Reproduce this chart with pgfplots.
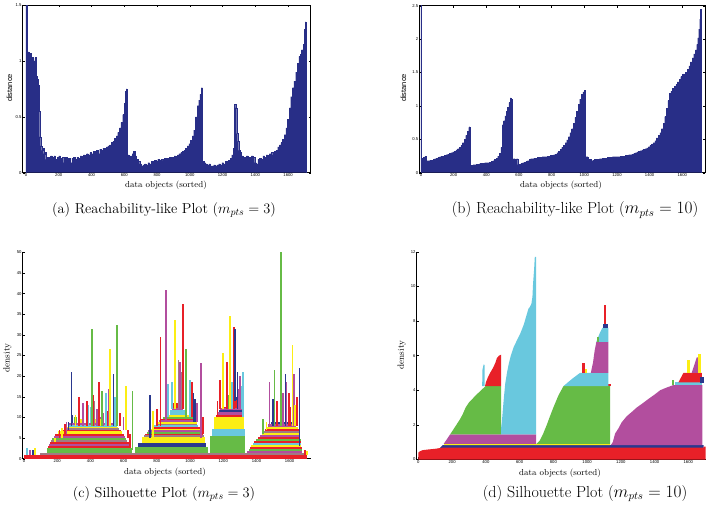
\documentclass[border=0pt]{standalone}
\usepackage{pgfplots}
\pgfplotsset{compat=1.18}
\usepackage{fontspec}
\newfontfamily\sff{Liberation Sans}
\definecolor{navy}{RGB}{40,46,135}
\definecolor{sred}{RGB}{232,32,40}
\definecolor{sgreen}{RGB}{102,187,70}
\definecolor{sblue}{RGB}{42,56,142}
\definecolor{syellow}{RGB}{252,238,20}
\definecolor{scyan}{RGB}{105,200,222}
\definecolor{spurple}{RGB}{178,78,158}
\definecolor{sgray}{RGB}{160,122,132}
\newcommand{\rb}[5]{\addplot[draw=none,fill=#1] coordinates {(#2,#4) (#3,#4) (#3,#5) (#2,#5)} -- cycle;}
\pgfplotsset{
  common/.style={scale only axis, ymin=0, xtick={0,200,...,1600},
    tick align=inside, major tick length=2.2pt,
    ticklabel style={font=\sff\fontsize{4.2}{4.6}\selectfont},
    xticklabel style={inner sep=0.6pt},
    yticklabel style={inner sep=1pt},
    /pgf/number format/assume math mode=true,
    /pgf/number format/1000 sep={},
    axis line style={line width=0.6pt}, tick style={line width=0.4pt, black}},
  reach/.style={common, tick pos=both},
  silh/.style={common, axis lines*=left, axis line style={-, line width=0.6pt}}
}
\begin{document}
\begin{tikzpicture}
\useasboundingbox (0,0) rectangle (715pt,-504pt);
% ---------------- (a)
\begin{axis}[reach, at={(22.7pt,-172.7pt)}, anchor=south west, width=288pt, height=167.7pt,
  xmin=-20, xmax=1738, ymax=1.5, ytick={0,0.5,1,1.5}]
\addplot[const plot, fill=navy, draw=navy, line width=0.2pt] coordinates {
(0,1.6) (6,1.05) (12,1.08) (18,0.88) (24,1.07) (30,0.70) (36,1.03) (42,0.85) (48,1.0) (54,1.03)
(60,0.86) (66,0.84) (72,0.78) (78,0.55) (84,0.32) (90,0.24) (96,0.2) (102,0.22) (108,0.17) (114,0.18)
(120,0.12) (126,0.14) (140,0.13) (150,0.15) (160,0.14) (170,0.15) (180,0.12) (190,0.14) (200,0.15)
(210,0.13) (220,0.14) (230,0.09) (240,0.14) (250,0.12) (260,0.13) (270,0.09) (280,0.13) (290,0.14)
(300,0.12) (310,0.14) (320,0.13) (330,0.15) (340,0.14) (350,0.16) (360,0.15) (370,0.17) (380,0.16)
(390,0.18) (400,0.17) (410,0.19) (420,0.18) (430,0.2) (440,0.17) (450,0.21) (460,0.2) (470,0.22)
(480,0.21) (490,0.23) (500,0.24) (510,0.25) (520,0.27) (530,0.28) (540,0.31) (550,0.33) (560,0.36)
(570,0.4) (580,0.45) (590,0.52) (600,0.62) (606,0.73) (612,0.75) (618,0.16) (628,0.14) (638,0.15)
(648,0.17) (656,0.19) (664,0.15) (674,0.12) (684,0.1) (694,0.08) (704,0.06) (714,0.07) (724,0.08)
(734,0.07) (744,0.09) (754,0.08) (764,0.1) (774,0.09) (784,0.11) (794,0.1) (804,0.12) (814,0.11)
(824,0.12) (834,0.11) (844,0.13) (854,0.12) (864,0.13) (874,0.14) (884,0.12) (894,0.14) (904,0.15)
(914,0.14) (924,0.16) (934,0.17) (944,0.18) (954,0.19) (964,0.2) (974,0.22) (984,0.24) (994,0.26)
(1004,0.29) (1014,0.33) (1024,0.38) (1034,0.5) (1044,0.6) (1054,0.65) (1062,0.7) (1070,0.76)
(1076,0.1) (1086,0.09) (1096,0.08) (1106,0.07) (1116,0.08) (1126,0.06) (1136,0.06) (1146,0.07)
(1156,0.06) (1166,0.07) (1176,0.08) (1186,0.07) (1196,0.09) (1206,0.08) (1216,0.1) (1226,0.09)
(1236,0.11) (1246,0.13) (1256,0.16) (1266,0.22) (1272,0.61) (1280,0.58) (1286,0.35) (1292,0.28)
(1298,0.2) (1306,0.18) (1316,0.15) (1326,0.14) (1336,0.13) (1346,0.15) (1356,0.14) (1366,0.13)
(1376,0.15) (1386,0.14) (1396,0.09) (1406,0.08) (1416,0.12) (1426,0.13) (1436,0.12) (1446,0.15)
(1456,0.14) (1466,0.16) (1476,0.15) (1486,0.17) (1496,0.18) (1506,0.16) (1516,0.19) (1526,0.2)
(1536,0.23) (1546,0.25) (1556,0.27) (1566,0.3) (1576,0.34) (1586,0.4) (1596,0.48) (1606,0.58)
(1616,0.68) (1626,0.76) (1636,0.82) (1646,0.9) (1656,0.98) (1666,1.04) (1672,0.92) (1676,1.06)
(1682,1.1) (1688,1.08) (1694,1.15) (1700,1.28) (1704,1.35) (1708,1.35)} \closedcycle;
\end{axis}
% ---------------- (b)
\begin{axis}[reach, at={(419.3pt,-172.7pt)}, anchor=south west, width=285.7pt, height=167pt,
  xmin=-10, xmax=1739, ymax=2.5, ytick={0,0.5,1,1.5,2,2.5}]
\addplot[const plot, fill=navy, draw=navy, line width=0.2pt] coordinates {
(0,2.6) (4,0.2) (10,0.22) (16,0.23) (22,0.24) (28,0.25) (34,0.18) (44,0.18) (54,0.19) (64,0.19)
(74,0.2) (84,0.21) (94,0.22) (104,0.23) (114,0.24) (124,0.25) (134,0.25) (144,0.26) (154,0.27)
(164,0.28) (174,0.29) (184,0.3) (194,0.31) (204,0.32) (214,0.34) (224,0.36) (234,0.38) (244,0.41)
(254,0.45) (264,0.5) (274,0.56) (284,0.62) (292,0.68) (296,0.69) (300,0.1) (310,0.11) (320,0.12)
(330,0.12) (340,0.13) (350,0.13) (360,0.14) (370,0.14) (380,0.14) (390,0.15) (400,0.15) (410,0.15)
(420,0.16) (430,0.17) (440,0.18) (450,0.2) (460,0.22) (470,0.25) (480,0.29) (490,0.38) (498,0.72)
(506,0.78) (514,0.85) (522,0.92) (530,0.98) (538,1.05) (546,1.12) (552,1.1) (556,0.2) (566,0.21)
(576,0.2) (586,0.21) (592,0.12) (602,0.13) (612,0.14) (622,0.15) (632,0.16) (642,0.17) (652,0.18)
(662,0.2) (672,0.21) (682,0.21) (692,0.22) (702,0.22) (712,0.23) (722,0.23) (732,0.23) (742,0.24)
(752,0.24) (762,0.24) (772,0.25) (782,0.25) (792,0.26) (802,0.26) (812,0.27) (822,0.28) (832,0.3)
(842,0.32) (852,0.35) (862,0.38) (872,0.41) (882,0.45) (892,0.49) (902,0.54) (912,0.6) (922,0.66)
(932,0.74) (942,0.83) (952,0.92) (962,1.02) (972,1.1) (982,1.17) (992,1.21) (1000,1.23) (1004,1.21)
(1008,0.24) (1016,0.24) (1022,0.18) (1032,0.2) (1042,0.18) (1052,0.19) (1062,0.2) (1072,0.2)
(1082,0.19) (1092,0.21) (1102,0.21) (1112,0.22) (1122,0.22) (1132,0.22) (1142,0.23) (1152,0.23)
(1162,0.23) (1172,0.24) (1182,0.24) (1192,0.24) (1202,0.24) (1212,0.24) (1222,0.25) (1232,0.25)
(1242,0.25) (1252,0.26) (1262,0.26) (1272,0.27) (1282,0.27) (1292,0.28) (1302,0.29) (1312,0.3)
(1322,0.31) (1332,0.32) (1342,0.33) (1352,0.34) (1362,0.35) (1372,0.36) (1382,0.37) (1392,0.39)
(1402,0.41) (1412,0.43) (1422,0.45) (1432,0.48) (1442,0.52) (1452,0.56) (1462,0.6) (1472,0.66)
(1482,0.74) (1492,0.84) (1502,0.96) (1512,1.08) (1520,1.19) (1530,1.22) (1540,1.26) (1550,1.29)
(1560,1.32) (1570,1.36) (1580,1.4) (1590,1.44) (1600,1.47) (1608,1.48) (1612,1.35) (1620,1.5)
(1630,1.55) (1640,1.6) (1650,1.66) (1660,1.72) (1670,1.78) (1680,1.84) (1688,1.92) (1694,2.02)
(1700,2.15) (1706,2.3) (1710,2.45) (1716,2.45)} \closedcycle;
\end{axis}
% ---------------- (c)
\begin{axis}[silh, at={(22.7pt,-458.7pt)}, anchor=south west, width=288pt, height=206.4pt,
  xmin=-8, xmax=1727, ymax=50, ytick={0,5,...,50}]
\rb{sred}{0}{1705}{0}{1.0}
\rb{sgray}{95}{1690}{1.0}{1.3}
% hill 1
\rb{sgreen}{140}{648}{1.3}{2.6}
\rb{sred}{145}{643}{2.6}{3.1}
\rb{spurple}{150}{638}{3.1}{3.6}
\rb{sred}{155}{630}{3.6}{4.1}
\rb{sgray}{162}{622}{4.1}{4.6}
\rb{sgreen}{170}{615}{4.6}{5.1}
\rb{spurple}{178}{608}{5.1}{5.6}
\rb{sred}{188}{600}{5.6}{6.1}
\rb{syellow}{205}{592}{6.1}{6.6}
\rb{sred}{225}{582}{6.6}{7.0}
\rb{sgray}{240}{575}{7.0}{7.4}
\rb{syellow}{255}{566}{7.4}{7.8}
\rb{scyan}{265}{560}{7.8}{8.2}
\rb{spurple}{272}{552}{8.2}{8.6}
\rb{sblue}{280}{296}{8.6}{10.5}
\rb{sgreen}{300}{320}{8.6}{10}
\rb{syellow}{330}{350}{8.6}{9.5}
\rb{scyan}{395}{430}{8.6}{12.5}
\rb{syellow}{430}{460}{8.6}{9.5}
\rb{spurple}{460}{480}{8.6}{10}
\rb{sred}{500}{520}{8.6}{11}
% hill 2
\rb{sgreen}{669}{1110}{1.3}{2.9}
\rb{sblue}{689}{1096}{2.9}{3.9}
\rb{syellow}{709}{1090}{3.9}{5.3}
\rb{sgray}{720}{1085}{5.3}{5.7}
\rb{sred}{728}{1080}{5.7}{6.1}
\rb{sgreen}{738}{1075}{6.1}{6.5}
\rb{spurple}{748}{1070}{6.5}{6.9}
\rb{syellow}{758}{1064}{6.9}{7.3}
\rb{sred}{770}{1058}{7.3}{7.7}
\rb{scyan}{782}{1050}{7.7}{8.1}
\rb{sgray}{795}{1045}{8.1}{8.5}
\rb{syellow}{805}{1040}{8.5}{8.9}
\rb{spurple}{815}{1035}{8.9}{9.3}
\rb{sred}{825}{1030}{9.3}{9.7}
\rb{sgreen}{835}{1022}{9.7}{10.2}
\rb{syellow}{855}{1000}{10.2}{10.6}
\rb{scyan}{880}{975}{10.6}{11.8}
\rb{spurple}{890}{960}{11.8}{12.2}
\rb{sred}{900}{940}{12.2}{13.4}
% hill 3
\rb{sgreen}{1121}{1332}{1.3}{5.5}
\rb{scyan}{1133}{1329}{5.5}{7.1}
\rb{syellow}{1143}{1326}{7.1}{10.2}
\rb{sred}{1158}{1324}{10.2}{10.7}
\rb{spurple}{1165}{1322}{10.7}{11.2}
\rb{sblue}{1172}{1320}{11.2}{11.7}
\rb{spurple}{1180}{1318}{11.7}{12.2}
\rb{sred}{1190}{1310}{12.2}{12.6}
\rb{sred}{1221}{1291}{12.6}{14.2}
\rb{sblue}{1240}{1285}{14.2}{15}
% hill 4
\rb{spurple}{1345}{1675}{1.3}{1.8}
\rb{sgreen}{1355}{1673}{1.8}{2.3}
\rb{sred}{1362}{1672}{2.3}{2.8}
\rb{syellow}{1370}{1670}{2.8}{3.3}
\rb{scyan}{1378}{1668}{3.3}{3.8}
\rb{sred}{1388}{1667}{3.8}{4.3}
\rb{sgreen}{1398}{1666}{4.3}{4.8}
\rb{sred}{1408}{1665}{4.8}{5.3}
\rb{spurple}{1420}{1664}{5.3}{5.8}
\rb{syellow}{1432}{1663}{5.8}{6.3}
\rb{sgray}{1440}{1660}{6.3}{6.8}
\rb{sred}{1450}{1655}{6.8}{7.3}
\rb{syellow}{1460}{1650}{7.3}{7.8}
\rb{spurple}{1470}{1640}{7.8}{8.3}
\rb{sblue}{1485}{1630}{8.3}{8.8}
% spikes, hill 1 and left
\rb{scyan}{11}{21}{1}{2.6}
\rb{spurple}{31}{41}{1}{2.2}
\rb{sblue}{51}{61}{1}{2}
\rb{syellow}{61}{71}{1}{2.5}
\rb{syellow}{182}{192}{4}{5}
\rb{sred}{208}{218}{5}{7}
\rb{syellow}{222}{232}{5}{7.5}
\rb{sred}{240}{250}{6}{8.5}
\rb{spurple}{250}{260}{6}{9}
\rb{sblue}{262}{272}{7}{9}
\rb{sblue}{282}{292}{8}{21}
\rb{syellow}{306}{316}{8}{10.5}
\rb{sred}{326}{336}{8}{15}
\rb{spurple}{352}{362}{8}{13.5}
\rb{sred}{376}{386}{8}{14}
\rb{scyan}{383}{393}{8}{13}
\rb{sgreen}{403}{413}{8}{31.5}
\rb{sred}{413}{423}{8}{15.5}
\rb{sgray}{420}{428}{8}{14}
\rb{spurple}{433}{443}{8}{12}
\rb{sred}{447}{457}{8}{18.5}
\rb{syellow}{455}{463}{8}{9.5}
\rb{sgreen}{463}{473}{8}{16.5}
\rb{spurple}{473}{483}{8}{11}
\rb{scyan}{489}{499}{8}{16}
\rb{sred}{497}{507}{8}{11.5}
\rb{spurple}{503}{513}{8}{17}
\rb{syellow}{513}{523}{8}{26.5}
\rb{sblue}{533}{543}{8}{20.5}
\rb{scyan}{543}{553}{8}{15}
\rb{sgreen}{557}{567}{8}{32.5}
\rb{sred}{573}{583}{8}{11}
\rb{spurple}{595}{605}{7}{10}
\rb{syellow}{609}{619}{7}{17.5}
\rb{sred}{623}{633}{5}{7}
\rb{sred}{635}{645}{3}{6}
\rb{sgreen}{648}{658}{2}{16.5}
% hill 2 spikes
\rb{sblue}{754}{764}{5}{15.5}
\rb{syellow}{770}{780}{5}{11.5}
\rb{sred}{795}{805}{8}{12}
\rb{sred}{818}{828}{8}{29.5}
\rb{spurple}{850}{860}{9}{40.8}
\rb{scyan}{864}{874}{10}{18}
\rb{scyan}{885}{895}{12}{18.5}
\rb{syellow}{905}{915}{12}{33.5}
\rb{sgray}{925}{935}{12}{24}
\rb{spurple}{935}{945}{12}{23.5}
\rb{sgray}{943}{951}{12}{21}
\rb{sred}{953}{963}{12}{37.5}
\rb{sgreen}{969}{979}{10}{26.5}
\rb{scyan}{995}{1005}{10}{19}
\rb{sred}{1007}{1017}{10}{18.5}
\rb{sblue}{1015}{1025}{9}{16}
\rb{sblue}{1025}{1035}{9}{14.5}
\rb{spurple}{1039}{1049}{9}{13.5}
\rb{spurple}{1061}{1071}{5}{23.2}
\rb{sred}{1075}{1085}{6}{10}
% hill 3 spikes
\rb{sred}{1160}{1170}{10}{14}
\rb{sred}{1176}{1186}{12}{19}
\rb{syellow}{1192}{1202}{12}{25.5}
\rb{sred}{1216}{1226}{12}{23.5}
\rb{sgreen}{1226}{1236}{12}{15.5}
\rb{syellow}{1236}{1246}{12}{34.5}
\rb{scyan}{1246}{1256}{12}{18.5}
\rb{sred}{1260}{1270}{12}{32}
\rb{sblue}{1266}{1276}{14}{31.5}
\rb{sblue}{1280}{1290}{12}{21}
\rb{spurple}{1292}{1302}{12}{17}
\rb{spurple}{1296}{1306}{12}{20}
\rb{scyan}{1306}{1316}{12}{17.5}
\rb{scyan}{1316}{1326}{10}{21}
% hill 4 spikes
\rb{sgreen}{1435}{1445}{6}{9.5}
\rb{syellow}{1455}{1465}{7}{9}
\rb{spurple}{1473}{1483}{8}{18.5}
\rb{sblue}{1493}{1503}{8}{14.5}
\rb{sgreen}{1503}{1513}{8}{21.5}
\rb{sred}{1517}{1527}{8}{14}
\rb{sgreen}{1543}{1553}{8}{51}
\rb{spurple}{1557}{1567}{8}{16}
\rb{sblue}{1571}{1581}{8}{20.5}
\rb{spurple}{1577}{1587}{8}{18.5}
\rb{sred}{1593}{1603}{8}{16}
\rb{sred}{1597}{1607}{8}{12.5}
\rb{syellow}{1613}{1623}{8}{27.5}
\rb{spurple}{1621}{1631}{8}{20.5}
\rb{syellow}{1627}{1637}{8}{13}
\rb{sred}{1640}{1650}{8}{15}
\rb{sblue}{1654}{1664}{3}{22}
\rb{sred}{1688}{1698}{1}{2.2}
\rb{syellow}{1698}{1708}{1}{1.8}
\end{axis}
% ---------------- (d)
\begin{axis}[silh, at={(416.7pt,-459.5pt)}, anchor=south west, width=289pt, height=207.8pt,
  xmin=-10, xmax=1703, ymax=12, ytick={0,2,...,12}]
\addplot[draw=none,fill=sblue] coordinates {(120,0.6) (1690,0.6) (1690,0.83) (145,0.83)} -- cycle;
\addplot[draw=none,fill=sred] coordinates {(0,0) (0,0.4) (10,0.48) (25,0.54) (60,0.58) (100,0.62) (140,0.68) (1690,0.68) (1690,0.75) (1703,0.75) (1703,0)} -- cycle;
\addplot[draw=none,fill=syellow] coordinates {(150,0.83) (1136,0.83) (1136,0.9) (155,0.9)} -- cycle;
\addplot[draw=none,fill=spurple] coordinates {(150,0.9) (698,0.9) (698,1.45) (188,1.45)} -- cycle;
\addplot[draw=none,fill=sgreen] coordinates {(188,1.45) (490,1.45) (490,4.24) (398,4.24) (372,4.0) (345,3.75) (320,3.5) (300,3.3) (280,3.0) (262,2.6) (245,2.3) (225,2.0) (205,1.7)} -- cycle;
\addplot[draw=none,fill=scyan] coordinates {(378,4.24) (393,4.24) (393,5.45) (387,5.5) (380,5.2)} -- cycle;
\addplot[draw=none,fill=sred] coordinates {(395,4.24) (490,4.24) (490,6.05) (478,6.0) (465,5.85) (455,5.55) (440,5.25) (425,5.0) (410,4.7) (400,4.45)} -- cycle;
\addplot[draw=none,fill=scyan] coordinates {(490,1.45) (698,1.45) (698,11.7) (690,11.7) (686,11.0) (680,10.2) (676,9.4) (670,9.0) (660,8.8) (652,8.7) (640,8.3) (625,7.8) (605,7.3) (585,6.9) (565,6.5) (548,6.0) (535,5.5) (525,5.0) (515,4.4) (507,3.6) (500,2.8) (495,2.2) (490,1.8)} -- cycle;
\addplot[draw=none,fill=sgreen] coordinates {(700,0.9) (1136,0.9) (1136,4.24) (860,4.24) (830,3.7) (800,3.0) (780,2.5) (761,2.0) (740,1.5) (720,1.1)} -- cycle;
\rb{sred}{1122}{1140}{4.24}{4.35}
\addplot[draw=none,fill=scyan] coordinates {(860,4.24) (1126,4.24) (1126,5.0) (958,5.0) (910,4.65)} -- cycle;
\addplot[draw=none,fill=spurple] coordinates {(1022,5.0) (1126,5.0) (1126,6.8) (1055,6.8) (1045,6.3) (1035,5.6)} -- cycle;
\addplot[draw=none,fill=scyan] coordinates {(1055,6.8) (1126,6.8) (1126,7.6) (1090,7.6) (1075,7.3)} -- cycle;
\rb{sblue}{1096}{1126}{7.6}{7.8}
\rb{sred}{1098}{1114}{7.8}{8.95}
\rb{sgreen}{1058}{1072}{6.8}{7.1}
\rb{sred}{968}{988}{5.0}{5.6}
\rb{syellow}{988}{1002}{5.0}{5.25}
\addplot[draw=none,fill=spurple] coordinates {(1140,0.83) (1683,0.83) (1683,4.3) (1512,4.3) (1470,4.15) (1433,4.0) (1400,3.75) (1364,3.5) (1330,3.25) (1294,3.0) (1265,2.75) (1235,2.5) (1205,2.15) (1186,1.8) (1166,1.5) (1152,1.0)} -- cycle;
\rb{scyan}{1522}{1683}{4.3}{4.45}
\rb{sgreen}{1502}{1516}{4.3}{4.6}
\addplot[draw=none,fill=sred] coordinates {(1541,4.45) (1680,4.45) (1680,5.0) (1571,5.0)} -- cycle;
\rb{sblue}{1672}{1690}{4.4}{4.75}
\addplot[draw=none,fill=spurple] coordinates {(1620,5.0) (1662,5.0) (1658,5.9) (1650,5.9)} -- cycle;
\rb{syellow}{1592}{1610}{5.0}{5.75}
\rb{syellow}{1655}{1673}{5.0}{6.1}
\end{axis}
% ---------------- labels and captions
\node[font=\sff\fontsize{7.5}{8}\selectfont, rotate=90] at (9.5pt,-88pt) {distance};
\node[font=\sff\fontsize{7.5}{8}\selectfont, rotate=90] at (403.5pt,-88pt) {distance};
\node[font=\fontsize{8.7}{10}\selectfont, inner sep=0.5pt] at (166pt,-185.5pt) {data objects (sorted)};
\node[font=\fontsize{8.7}{10}\selectfont, inner sep=0.5pt] at (561pt,-185.5pt) {data objects (sorted)};
\node[font=\fontsize{9}{10}\selectfont, rotate=90] at (7.5pt,-358pt) {density};
\node[font=\fontsize{9}{10}\selectfont, rotate=90] at (401.7pt,-355pt) {density};
\node[font=\fontsize{8.7}{10}\selectfont, inner sep=0.5pt] at (165pt,-472.5pt) {data objects (sorted)};
\node[font=\fontsize{8.7}{10}\selectfont, inner sep=0.5pt] at (560pt,-473pt) {data objects (sorted)};
\node[font=\fontsize{14.4}{16}\selectfont] at (164pt,-210pt) {(a) Reachability-like Plot ($m_{pts}=3$)};
\node[font=\fontsize{16}{18}\selectfont] at (575pt,-210pt) {(b) Reachability-like Plot ($m_{pts}=10$)};
\node[font=\fontsize{14.4}{16}\selectfont, inner sep=0pt] at (164pt,-494pt) {(c) Silhouette Plot ($m_{pts}=3$)};
\node[font=\fontsize{16}{18}\selectfont, inner sep=0pt] at (585pt,-493.5pt) {(d) Silhouette Plot ($m_{pts}=10$)};
\end{tikzpicture}
\end{document}
